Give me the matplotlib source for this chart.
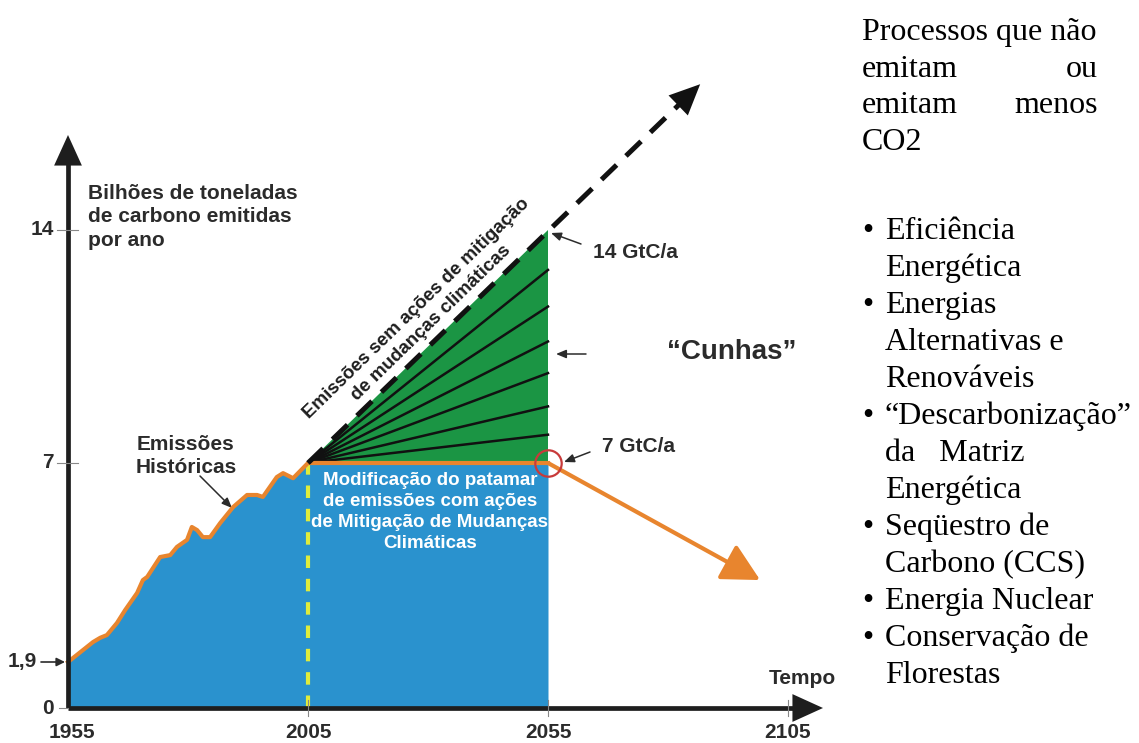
import numpy as np
import matplotlib.pyplot as plt

plt.rcParams['font.family'] = ['Liberation Sans', 'DejaVu Sans']

# historical emissions (GtC per year)
hist_years = [1955, 1960.2, 1961.7, 1963.1, 1965.2, 1966.9, 1969.4, 1970.6, 1971.5, 1974.2,
              1976.3, 1977.7, 1979.8, 1980.8, 1981.9, 1983.1, 1984.6, 1986.7, 1989.4,
              1992.3, 1994.4, 1995.6, 1998.5, 1999.8, 2001.9, 2005]
hist_vals = [1.9, 2.41, 2.52, 2.59, 2.90, 3.23, 3.67, 4.00, 4.08, 4.59,
             4.64, 4.85, 5.03, 5.36, 5.28, 5.10, 5.10, 5.46, 5.87,
             6.18, 6.18, 6.13, 6.64, 6.74, 6.61, 7.0]

start_year, target_year = 2005, 2055
level_now, level_bau = 7, 14
bau_tip = (2086.7, 18.38)        # end of the "no mitigation" arrow
mitig_tip = (2099.2, 4.0)        # end of the orange mitigation arrow
wedge_ends = [7.85, 8.7, 9.7, 10.65, 11.7, 12.8]

x_ticks = [1955, 2005, 2055, 2105]
y_ticks = [0, 1.9, 7, 14]
y_tick_labels = ['0', '1,9', '7', '14']

header_lines = ['Processos que não', 'emitam', 'emitam', 'CO2']
header_right = ['', 'ou', 'menos', '']
bullet_items = [['Eficiência', 'Energética'],
                ['Energias', 'Alternativas e', 'Renováveis'],
                ['“Descarbonização”', 'da   Matriz', 'Energética'],
                ['Seqüestro de', 'Carbono (CCS)'],
                ['Energia Nuclear'],
                ['Conservação de', 'Florestas']]

BLUE = '#2A92CE'
GREEN = '#1B9544'
ORANGE = '#E8852E'
DARK = '#2b2b2b'

# the sketch is not drawn to scale on the y axis: piecewise linear scale
knots_v = [-50, 0, 1.9, 7, 14, 60]
knots_h = [-50 * 46 / 1.9, 0, 46, 245, 478, 478 + 46 * 233 / 7]


def fwd(v):
    return np.interp(v, knots_v, knots_h)


def inv(h):
    return np.interp(h, knots_h, knots_v)


W, H = 1139, 743
fig = plt.figure(figsize=(W / 100, H / 100), dpi=100)
ax = fig.add_axes([0, 0, 1, 1])
ax.set_yscale('function', functions=(fwd, inv))
ax.set_xlim(1955 - 68 / 4.8, 1955 + (W - 68) / 4.8)
ax.set_ylim(inv(-35), inv(708))
ax.axis('off')


def P(x, y):
    # pixel position (from top-left) -> data coords, for label placement
    return tuple(ax.transData.inverted().transform((x, H - y)))


# areas
ax.fill_between(hist_years + [target_year], 0, hist_vals + [level_now],
                color=BLUE, lw=0, zorder=1)
ax.fill([start_year, target_year, target_year], [level_now, level_bau, level_now],
        color=GREEN, lw=0, zorder=1)

ax.plot([start_year, start_year], [0, level_now], color='#E0EC3C', lw=3,
        dashes=(3, 2.6), zorder=2)

for v in wedge_ends:
    ax.plot([start_year, target_year], [level_now, v], color='#111111', lw=1.8, zorder=3)

# emissions line + mitigation arrow
ax.plot(hist_years + [target_year], hist_vals + [level_now], color=ORANGE, lw=3,
        solid_joinstyle='round', zorder=4)
ax.annotate('', xy=mitig_tip, xytext=(target_year, level_now), zorder=4,
            arrowprops=dict(arrowstyle='-|>,head_length=1.15,head_width=0.6',
                            mutation_scale=20, color=ORANGE, lw=3,
                            shrinkA=0, shrinkB=0))

# business-as-usual dashed arrow
ax.plot([start_year, bau_tip[0] - 3], [level_now, bau_tip[1] - 0.42], color='#111111',
        lw=3.6, dashes=(4.2, 2.6), zorder=5)
ax.annotate('', xy=bau_tip, xytext=(start_year, level_now), zorder=5,
            arrowprops=dict(arrowstyle='-|>,head_length=1.1,head_width=0.5',
                            mutation_scale=20, fc='#111111', ec='none', lw=0,
                            shrinkA=0, shrinkB=0))

ax.plot([target_year], [level_now], 'o', ms=19, mfc='none', mec='#C83A3A', mew=1.6, zorder=6)

# axes drawn as arrows
ax_top = P(0, 135)[1]
ax_right = P(823, 0)[0]
ax.plot([1955, 1955], [0, P(0, 158)[1]], color='#1e1e1e', lw=3.4, zorder=6,
        solid_capstyle='butt')
ax.plot([1955, P(806, 0)[0]], [0, 0], color='#1e1e1e', lw=3.4, zorder=6,
        solid_capstyle='butt')
head = dict(arrowstyle='-|>,head_length=1.1,head_width=0.5', mutation_scale=20,
            fc='#1e1e1e', ec='none', lw=0, shrinkA=0, shrinkB=0)
ax.annotate('', xy=(1955, ax_top), xytext=(1955, 0), arrowprops=head, zorder=6)
ax.annotate('', xy=(ax_right, 0), xytext=(1955, 0), arrowprops=head, zorder=6)

# ticks
for v in [7, 14]:
    ax.plot([P(57, 0)[0], P(78, 0)[0]], [v, v], color='#888888', lw=0.8, zorder=7)
ax.plot([P(59, 0)[0], 1955], [0, 0], color='#888888', lw=0.8, zorder=7)
for yr in x_ticks[1:]:
    ax.plot([yr, yr], [P(0, 700)[1], P(0, 716)[1]], color='#888888', lw=0.8, zorder=7)

tfont = dict(fontsize=15, fontweight='bold', color=DARK)
lab_y = P(0, 732)[1]
for yr in x_ticks:
    ax.text(yr + (0.8 if yr == 1955 else 0), lab_y, str(yr), ha='center', va='center', **tfont)
for v, lab in zip(y_ticks, y_tick_labels):
    xr = P(37, 0)[0] if lab == '1,9' else P(54, 0)[0]
    ax.text(xr, v, lab, ha='right', va='center', **tfont)
ax.annotate('', xy=(P(65, 0)[0], 1.9), xytext=(P(41, 0)[0], 1.9),
            arrowprops=dict(arrowstyle='-|>,head_length=0.5,head_width=0.25',
                            mutation_scale=10, color=DARK, lw=1.2, shrinkA=0, shrinkB=0))
ax.text(*P(802, 678), 'Tempo', ha='center', va='center', **tfont)

# labels
ax.text(*P(88, 217), 'Bilhões de toneladas\nde carbono emitidas\npor ano',
        ha='left', va='center', linespacing=1.28, **tfont)
ax.text(*P(186, 456), 'Emissões\nHistóricas', ha='center', va='center',
        linespacing=1.32, **tfont)
small_arrow = dict(arrowstyle='-|>,head_length=0.6,head_width=0.25', mutation_scale=10,
                   color=DARK, lw=1.1, shrinkA=0, shrinkB=0)
ax.annotate('', xy=P(232, 508), xytext=P(200, 476), arrowprops=small_arrow)

ax.text(*P(424, 316), 'Emissões sem ações de mitigação\nde mudanças climáticas',
        ha='center', va='center', rotation=44.2, rotation_mode='anchor',
        linespacing=1.28, fontsize=13.5, fontweight='bold', color='#1e1e1e', zorder=8)

ax.text(*P(430, 512), 'Modificação do patamar\nde emissões com ações\nde Mitigação de Mudanças\nClimáticas',
        ha='center', va='center', linespacing=1.3, fontsize=13.5, fontweight='bold',
        color='white', zorder=8)

ax.text(*P(593, 253), '14 GtC/a', ha='left', va='center', **tfont)
ax.annotate('', xy=P(551, 233), xytext=P(581, 244), arrowprops=small_arrow)
ax.text(*P(667, 352), '“Cunhas”', ha='left', va='center', fontsize=20,
        fontweight='bold', color=DARK)
ax.annotate('', xy=P(556, 354), xytext=P(586, 354), arrowprops=small_arrow)
ax.text(*P(602, 447), '7 GtC/a', ha='left', va='center', **tfont)
ax.annotate('', xy=P(564, 462), xytext=P(590, 452), arrowprops=small_arrow)

# right-hand text block
serif = dict(fontsize=23, family=['Liberation Serif', 'DejaVu Serif'], color='black',
             va='baseline')
left_x, right_x = 862, 1098
for i, (l, r) in enumerate(zip(header_lines, header_right)):
    yb = 40 + i * 36.7
    fig.text(left_x / W, 1 - yb / H, l, ha='left', **serif)
    if r:
        fig.text(right_x / W, 1 - yb / H, r, ha='right', **serif)

yb = 239
for item in bullet_items:
    fig.text(left_x / W, 1 - yb / H, '•', ha='left', **serif)
    for line in item:
        fig.text(885 / W, 1 - yb / H, line, ha='left', **serif)
        yb += 37

fig.savefig('out.png', dpi=100)
